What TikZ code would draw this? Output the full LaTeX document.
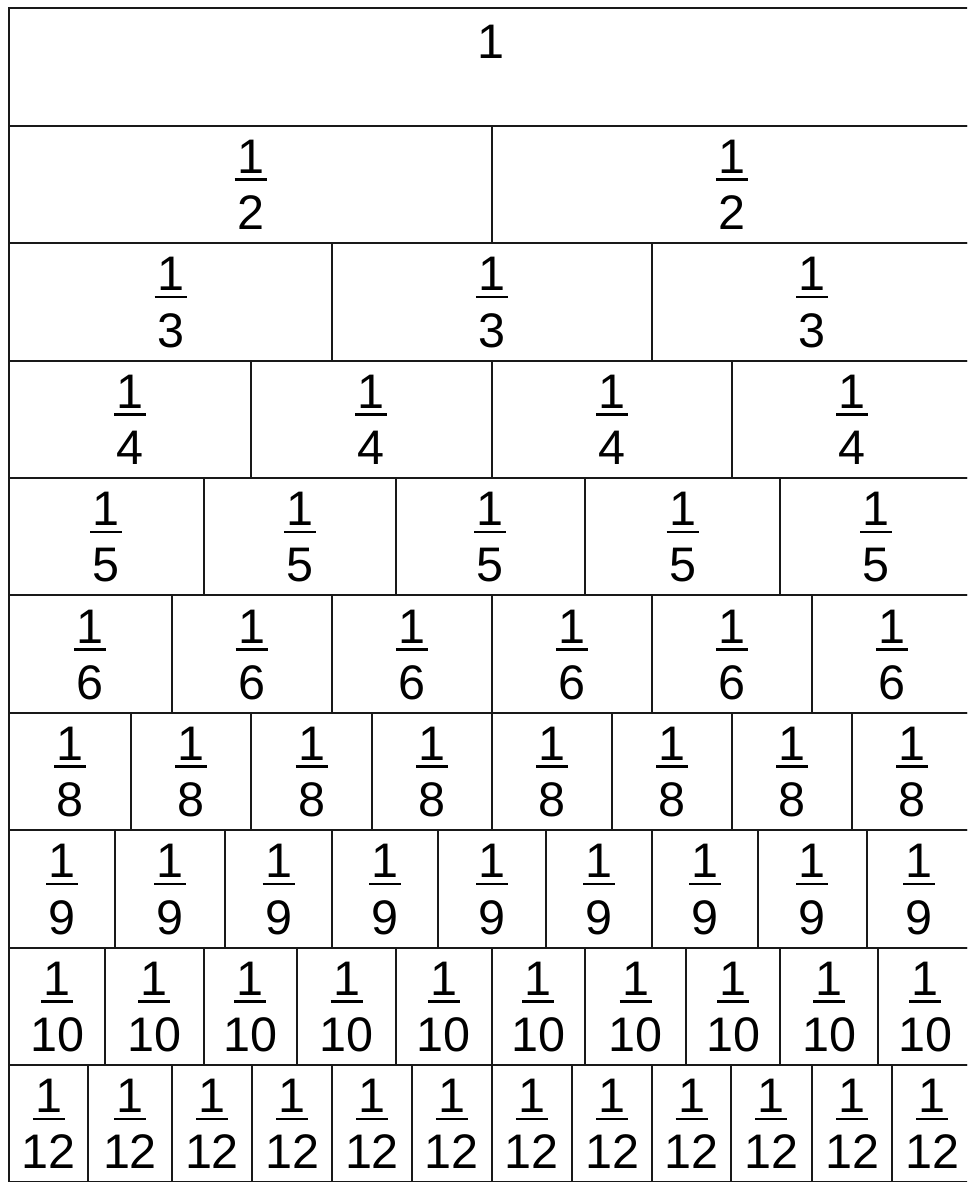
\documentclass[tikz,border=0pt]{standalone}
\usepackage{fontspec}
\setmainfont{Liberation Sans}
\begin{document}
\begin{tikzpicture}[x=1pt,y=-1pt,
  cell/.style={draw=black!90, line width=2pt},
  lab/.style={inner sep=0pt, anchor=base, font=\fontsize{48.5}{50}\selectfont},
  barline/.style={line width=2.6pt, draw=black}]
\useasboundingbox (0,0) rectangle (967,1182);
\clip (0,0) rectangle (967,1182);
\fill[white] (0,0) rectangle (967,1182);
\foreach \r/\d/\xs in {
  1/1/{972},
  2/2/{491.7,972},
  3/3/{331.9,652,972},
  4/4/{251,491.7,732,972},
  5/5/{203.6,396,584.8,780.4,972},
  6/6/{171.5,331.9,491.7,652,811.8,972},
  7/8/{131.4,251,372,491.7,612,732,852,972},
  8/9/{115.4,225,332,438,546,652,758,866.7,972},
  9/10/{105,203.6,297,396,491.7,585,686,780,878,972},
  10/12/{88.3,171.7,252.3,332,412,491.7,572,652,731,811.7,892.3,972}} {
  \pgfmathsetmacro\yt{8.3+117.4*(\r-1)}
  \pgfmathsetmacro\yb{\yt+117.4}
  \foreach \x [remember=\x as \lx (initially 9.3), count=\i] in \xs {
    \draw[cell] (\lx,\yt) rectangle (\x,\yb);
    \pgfmathsetmacro\cx{(\lx+\x)/2}
    \ifnum\r=1
      \node[lab] (n-\r-\i) at (\cx,\yt+50) {1};
    \else
      \node[lab] (n-\r-\i) at (\cx,\yt+47.7) {1};
      \draw[barline] (\cx-16,\yt+54) -- (\cx+16,\yt+54);
      \node[lab] (d-\r-\i) at (\cx,\yt+104) {\d};
    \fi
  }
}
\end{tikzpicture}
\end{document}
